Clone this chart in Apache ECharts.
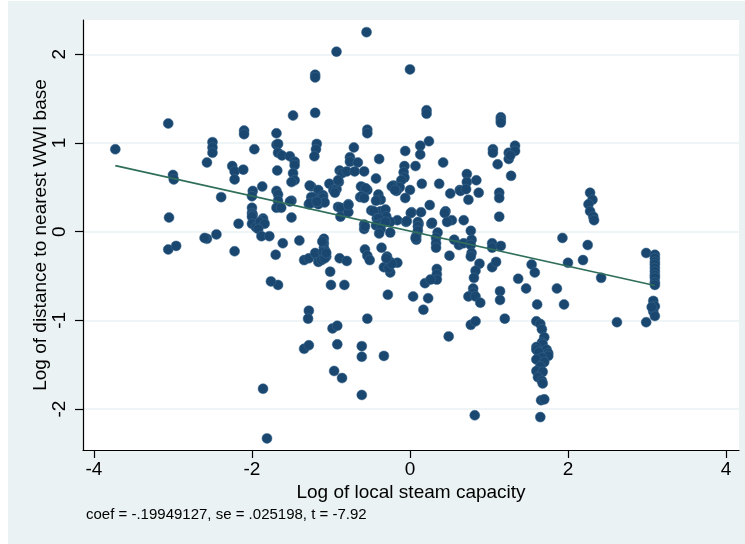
<!DOCTYPE html>
<html>
<head>
<meta charset="utf-8">
<script src="https://cdn.jsdelivr.net/npm/echarts@6/dist/echarts.min.js"></script>
<style>
html,body{margin:0;padding:0;background:#fff;}
#chart{position:absolute;left:0;top:0;width:745px;height:544px;
background:linear-gradient(to right,#fff 8px,transparent 8px),linear-gradient(to bottom,#fff 1px,#eaf2f3 1px);}
</style>
</head>
<body>
<div id="chart"></div>
<script>
// Tick values
const xTicks = [-4, -2, 0, 2, 4];
const yTicks = [-2, -1, 0, 1, 2];

// Scatter points [log steam capacity, log distance to nearest WWI base]
const pointsWest = [
[-3.73,0.93],[-3.06,1.22],[-3.00,0.64],[-2.99,0.59],[-3.05,0.16],[-3.06,-0.20],[-2.96,-0.16],
[-2.50,1.01],[-2.50,0.95],[-2.50,0.89],[-2.57,0.78],[-2.45,-0.03],[-2.57,-0.08],[-2.60,-0.07],
[-2.39,0.39],[-2.25,0.74],[-2.22,0.68],[-2.11,0.70],[-2.22,0.59],[-2.22,-0.22],[-2.17,0.09],
[-2.10,1.14],[-2.10,1.10],[-1.97,0.93],[-1.87,0.51],[-1.99,0.46],[-2.00,0.40],
[-2.00,0.27],[-2.00,0.21],[-1.99,0.19],[-2.00,0.17],[-2.00,0.09],[-1.95,0.05],[-1.89,0.11],[-1.86,0.15],
[-1.86,0.13],[-1.90,0.11],[-1.84,0.09],[-1.92,0.03],[-1.88,-0.05],[-1.78,-0.05],
[-1.69,1.11],[-1.69,0.98],[-1.67,0.99],[-1.67,0.89],[-1.62,0.86],[-1.68,0.69],[-1.69,0.46],[-1.67,0.42],
[-1.67,0.35],[-1.69,0.27],[-1.63,0.27],[-1.61,-0.13],[-1.70,-0.26],[-1.67,-0.60],[-1.76,-0.56],
[-1.52,0.85],[-1.46,0.79],[-1.46,0.75],[-1.48,0.66],[-1.46,0.58],[-1.50,0.56],[-1.50,0.35],[-1.52,0.34],
[-1.50,0.16],[-1.48,1.31],[-1.40,-0.10],
[-1.86,-1.77],[-1.81,-2.33]
];
const pointsMidWest = [
[-1.20,1.77],[-1.20,1.74],[-1.20,1.34],[-1.18,0.99],[-1.19,0.93],[-1.21,0.85],
[-1.25,0.51],[-1.27,0.52],[-1.16,0.47],[-1.22,0.39],[-1.10,0.41],[-1.25,0.39],[-1.22,0.33],[-1.16,0.31],
[-1.10,0.38],[-1.08,0.33],[-1.28,0.31],[-1.27,0.32],[-1.18,0.34],[-1.02,0.54],
[-0.97,0.47],[-0.93,0.48],[-0.95,0.44],[-0.90,0.56],[-0.89,0.69],[-0.86,0.66],[-0.80,0.68],[-0.91,0.58],
[-0.91,0.28],[-0.88,0.27],[-0.88,0.17],[-0.78,0.31],[-0.78,0.22],[-0.78,0.30],
[-0.93,2.03],[-0.71,0.95],[-0.76,0.84],[-0.76,0.79],[-0.66,0.78],[-0.70,0.68],
[-1.09,-0.08],[-1.09,-0.13],[-1.09,-0.18],[-1.07,-0.22],[-1.06,-0.28],[-1.11,-0.11],
[-1.34,-0.32],[-1.28,-0.30],[-1.19,-0.26],[-1.16,-0.34],[-1.20,-0.24],[-1.12,-0.32],[-1.10,-0.23],
[-1.08,-0.30],[-1.06,-0.24],[-0.89,-0.30],[-0.80,-0.33],[-1.01,-0.45],[-1.00,-0.60],[-0.83,-0.60],
[-1.28,-0.89],[-1.29,-0.98],[-0.98,-1.09],[-0.92,-1.06],[-1.34,-1.32],[-1.28,-1.28],[-0.92,-1.27],
[-0.96,-1.57],[-0.86,-1.65]
];
const pointsCenter = [
[-0.55,2.25],[0.00,1.83],[0.21,1.37],[0.21,1.33],[-0.54,1.15],[-0.54,1.11],
[0.24,1.02],[0.13,0.97],[0.13,0.87],[-0.06,0.91],[-0.39,0.82],[0.42,0.78],
[-0.58,0.68],[-0.07,0.74],[-0.08,0.67],[-0.07,0.61],[-0.11,0.58],[0.07,0.74],[-0.43,0.60],
[-0.60,0.50],[-0.54,0.47],[-0.62,0.51],[-0.56,0.49],[-0.63,0.39],[-0.21,0.52],[-0.13,0.50],[-0.17,0.46],
[-0.23,0.51],[-0.19,0.47],[0.15,0.54],[0.00,0.47],[0.37,0.54],[0.51,0.43],[0.63,0.47],
[-0.61,0.40],[-0.58,0.38],[-0.40,0.42],[-0.37,0.36],[-0.43,0.35],[-0.06,0.38],[0.25,0.30],
[-0.49,0.24],[-0.43,0.22],[-0.37,0.23],[-0.31,0.25],[-0.30,0.17],[-0.46,0.23],[-0.42,0.15],
[-0.16,0.13],[-0.05,0.11],[0.02,0.22],[0.14,0.22],[0.01,0.21],[0.11,0.09],[0.27,0.09],
[0.45,0.23],[0.44,0.21],[0.53,0.13],[0.47,0.11],
[-0.40,0.15],[-0.37,0.09],[-0.43,0.07],[-0.37,0.03],[-0.25,0.11],[-0.04,0.12],[0.10,0.11],[0.10,0.06],
[0.10,0.01],[0.28,0.10],[-0.58,0.08],[-0.58,0.03],[-0.57,0.06],[-0.31,0.11],
[0.08,-0.09],[0.08,-0.05],[0.07,-0.07],[0.35,-0.01],[0.33,-0.07],[0.33,-0.13],[0.33,-0.18],
[0.56,-0.09],[0.62,-0.15],[0.68,-0.13],[-0.25,-0.01],[-0.39,-0.02],
[-0.57,-0.20],[-0.54,-0.27],[-0.51,-0.32],[-0.36,-0.18],[-0.29,-0.28],[-0.25,-0.34],[-0.16,-0.35],
[-0.33,-0.40],[-0.25,-0.46],[-0.27,-0.41],[-0.23,-0.36],[-0.30,-0.30],[0.50,-0.27],
[0.34,-0.42],[0.34,-0.48],[0.34,-0.54],[0.19,-0.58],[0.26,-0.54],
[-0.28,-0.71],[0.04,-0.73],[0.23,-0.75],[0.17,-0.88],[-0.54,-0.98],
[-0.61,-1.29],[-0.61,-1.41],[-0.33,-1.40],[0.49,-1.18],[-0.61,-1.84]
];
const pointsEast = [
[1.15,1.29],[1.15,1.26],[1.15,1.23],[1.05,0.93],[1.05,0.89],[1.25,0.89],[1.25,0.82],
[1.33,0.97],[1.33,0.91],[1.27,0.86],[1.11,0.76],[1.28,0.63],
[0.72,0.65],[0.72,0.56],[0.84,0.58],[0.64,0.46],[0.71,0.48],[0.74,0.36],[0.87,0.44],
[1.13,0.44],[1.13,0.38],[0.68,0.13],[1.13,0.17],[0.77,0.01],
[0.78,-0.09],[0.77,-0.15],[0.78,-0.24],[0.77,-0.28],[1.04,-0.13],[1.04,-0.18],[1.15,-0.16],
[0.88,-0.36],[0.83,-0.44],[0.81,-0.52],[1.04,-0.40],[1.09,-0.34],[1.54,-0.37],[1.58,-0.46],
[1.37,-0.53],[1.47,-0.64],[0.80,-0.64],[0.80,-0.69],[0.74,-0.73],[0.83,-0.73],[0.89,-0.80],
[1.14,-0.67],[1.14,-0.77],[1.20,-0.98],[0.77,-1.05],[0.83,-1.01],[0.82,-2.07],
[1.61,-0.82],[1.60,-1.01],[1.65,-1.04],[1.67,-1.10],[1.70,-1.19],[1.67,-1.25],[1.68,-1.27],
[1.60,-1.30],[1.60,-1.33],[1.73,-1.33],[1.63,-1.36],[1.75,-1.37],[1.75,-1.40],[1.67,-1.42],
[1.60,-1.44],[1.70,-1.47],[1.65,-1.52],[1.60,-1.57],[1.68,-1.58],[1.62,-1.64],[1.67,-1.68],
[1.68,-1.71],[1.66,-1.90],[1.70,-1.89],[1.65,-2.09]
];
const pointsFarEast = [
[2.28,0.44],[2.31,0.36],[2.26,0.31],[2.28,0.23],[2.32,0.17],[2.33,0.13],
[1.93,-0.07],[2.25,-0.15],[2.00,-0.35],[2.19,-0.32],[2.42,-0.52],[1.86,-0.64],[1.95,-0.82],
[2.62,-1.02],[2.99,-1.02],[2.99,-0.24],
[3.10,-0.26],[3.10,-0.30],[3.10,-0.34],[3.10,-0.37],[3.10,-0.41],[3.10,-0.45],[3.10,-0.49],
[3.10,-0.52],[3.10,-0.57],[3.10,-0.60],[3.08,-0.78],[3.10,-0.84],[3.08,-0.90],[3.10,-0.95],[3.06,-0.85]
];

// Fitted line endpoints (coef = -.19949127)
const fitLine = [[-3.73,0.745],[3.10,-0.607]];

const caption = 'coef = -.19949127, se = .025198, t = -7.92';
const xTitle = 'Log of local steam capacity';
const yTitle = 'Log of distance to nearest WWI base';

const allPoints = pointsWest.concat(pointsMidWest, pointsCenter, pointsEast, pointsFarEast);

const FONT = 'Liberation Sans, Arial, Helvetica, sans-serif';
const chart = echarts.init(document.getElementById('chart'), null, {renderer:'canvas'});
chart.setOption({
  animation:false,
  backgroundColor:'transparent',
  grid:{left:83, top:20, width:656, height:430, show:true, backgroundColor:'#ffffff', borderWidth:0},
  xAxis:{
    type:'value', min:-4.139, max:4.165,
    name:xTitle, nameLocation:'middle', nameGap:33, nameMoveOverlap:false,
    nameTextStyle:{fontFamily:FONT, fontSize:19, color:'#000'},
    axisLine:{show:true, onZero:false, lineStyle:{color:'#000', width:1.2}},
    axisTick:{show:true, length:8, customValues:xTicks, lineStyle:{color:'#000', width:1.2}},
    axisLabel:{customValues:xTicks, fontFamily:FONT, fontSize:19, color:'#000', margin:10},
    splitLine:{show:false}
  },
  yAxis:{
    type:'value', min:-2.461, max:2.387,
    name:yTitle, nameLocation:'middle', nameGap:33, nameMoveOverlap:false,
    nameTextStyle:{fontFamily:FONT, fontSize:19, color:'#000'},
    axisLine:{show:true, onZero:false, lineStyle:{color:'#000', width:1.2}},
    axisTick:{show:true, length:8, customValues:yTicks, lineStyle:{color:'#000', width:1.2}},
    axisLabel:{customValues:yTicks, rotate:90, fontFamily:FONT, fontSize:19, color:'#000', margin:14},
    splitLine:{show:true, lineStyle:{color:'#eaf2f3', width:1.5}}
  },
  graphic:[{
    type:'text', left:86, top:507,
    style:{text:caption, fontFamily:FONT, fontSize:15, fill:'#000'}
  }],
  series:[
    {type:'scatter', data:allPoints, symbolSize:10,
     itemStyle:{color:'#1a476f', opacity:1, borderColor:'#3f6a90', borderWidth:0.5}, z:2},
    {type:'line', data:fitLine, showSymbol:false, symbol:'none',
     lineStyle:{color:'#2e6e5a', width:1.6}, z:3}
  ]
});
</script>
</body>
</html>
